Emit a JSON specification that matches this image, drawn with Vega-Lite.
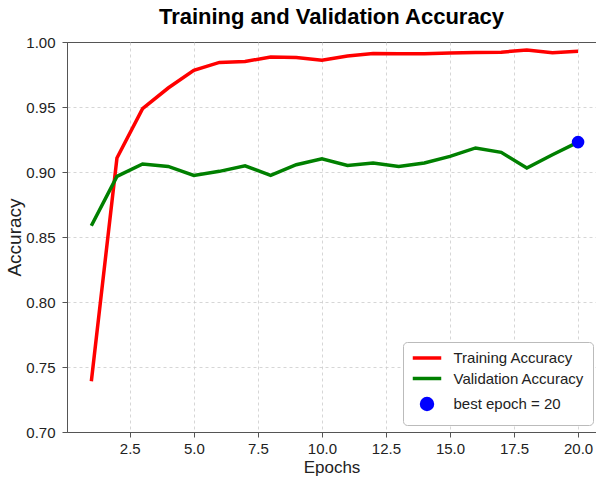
{
  "$schema": "https://vega.github.io/schema/vega-lite/v6.json",
  "width": 529,
  "height": 390,
  "autosize": {"type": "none"},
  "padding": {"left": 67, "top": 42, "right": 0, "bottom": 47},
  "background": "white",
  "title": {
    "text": "Training and Validation Accuracy",
    "font": "Liberation Sans",
    "fontSize": 22,
    "fontWeight": "bold",
    "color": "#000000",
    "anchor": "middle",
    "frame": "group",
    "baseline": "alphabetic",
    "offset": 15,
    "dy": 26
  },
  "config": {
    "font": "Liberation Sans",
    "view": {"stroke": "#555555", "strokeWidth": 1},
    "axis": {
      "labelFont": "Liberation Sans",
      "labelFontSize": 15,
      "labelColor": "#222222",
      "titleFont": "Liberation Sans",
      "titleFontWeight": "normal",
      "titleColor": "#222222",
      "domainColor": "#555555",
      "tickColor": "#555555",
      "tickSize": 5,
      "gridDash": [3, 3],
      "gridWidth": 0.8
    }
  },
  "datasets": {
    "acc": [
      {"epoch": 1, "acc": 0.739, "series": "Training Accuracy"},
      {"epoch": 2, "acc": 0.9108, "series": "Training Accuracy"},
      {"epoch": 3, "acc": 0.9487, "series": "Training Accuracy"},
      {"epoch": 4, "acc": 0.9646, "series": "Training Accuracy"},
      {"epoch": 5, "acc": 0.9782, "series": "Training Accuracy"},
      {"epoch": 6, "acc": 0.9843, "series": "Training Accuracy"},
      {"epoch": 7, "acc": 0.985, "series": "Training Accuracy"},
      {"epoch": 8, "acc": 0.9885, "series": "Training Accuracy"},
      {"epoch": 9, "acc": 0.988, "series": "Training Accuracy"},
      {"epoch": 10, "acc": 0.9859, "series": "Training Accuracy"},
      {"epoch": 11, "acc": 0.9892, "series": "Training Accuracy"},
      {"epoch": 12, "acc": 0.9912, "series": "Training Accuracy"},
      {"epoch": 13, "acc": 0.991, "series": "Training Accuracy"},
      {"epoch": 14, "acc": 0.991, "series": "Training Accuracy"},
      {"epoch": 15, "acc": 0.9915, "series": "Training Accuracy"},
      {"epoch": 16, "acc": 0.9919, "series": "Training Accuracy"},
      {"epoch": 17, "acc": 0.9922, "series": "Training Accuracy"},
      {"epoch": 18, "acc": 0.9938, "series": "Training Accuracy"},
      {"epoch": 19, "acc": 0.9918, "series": "Training Accuracy"},
      {"epoch": 20, "acc": 0.9928, "series": "Training Accuracy"},
      {"epoch": 1, "acc": 0.8587, "series": "Validation Accuracy"},
      {"epoch": 2, "acc": 0.8966, "series": "Validation Accuracy"},
      {"epoch": 3, "acc": 0.9062, "series": "Validation Accuracy"},
      {"epoch": 4, "acc": 0.9043, "series": "Validation Accuracy"},
      {"epoch": 5, "acc": 0.8974, "series": "Validation Accuracy"},
      {"epoch": 6, "acc": 0.9005, "series": "Validation Accuracy"},
      {"epoch": 7, "acc": 0.9048, "series": "Validation Accuracy"},
      {"epoch": 8, "acc": 0.8974, "series": "Validation Accuracy"},
      {"epoch": 9, "acc": 0.9056, "series": "Validation Accuracy"},
      {"epoch": 10, "acc": 0.9102, "series": "Validation Accuracy"},
      {"epoch": 11, "acc": 0.9051, "series": "Validation Accuracy"},
      {"epoch": 12, "acc": 0.9069, "series": "Validation Accuracy"},
      {"epoch": 13, "acc": 0.9043, "series": "Validation Accuracy"},
      {"epoch": 14, "acc": 0.9069, "series": "Validation Accuracy"},
      {"epoch": 15, "acc": 0.912, "series": "Validation Accuracy"},
      {"epoch": 16, "acc": 0.9185, "series": "Validation Accuracy"},
      {"epoch": 17, "acc": 0.9151, "series": "Validation Accuracy"},
      {"epoch": 18, "acc": 0.903, "series": "Validation Accuracy"},
      {"epoch": 19, "acc": 0.9133, "series": "Validation Accuracy"},
      {"epoch": 20, "acc": 0.923, "series": "Validation Accuracy"}
    ],
    "best": [
      {"epoch": 20, "acc": 0.923, "series": "best epoch = 20"}
    ]
  },
  "encoding": {
    "x": {
      "field": "epoch",
      "type": "quantitative",
      "title": "Epochs",
      "scale": {"domain": [0.05, 20.7], "nice": false, "zero": false},
      "axis": {
        "values": [2.5, 5, 7.5, 10, 12.5, 15, 17.5, 20],
        "format": ".1f",
        "labelPadding": 4,
        "titleFontSize": 17,
        "titlePadding": 3,
        "gridColor": "#cccccc"
      }
    },
    "y": {
      "field": "acc",
      "type": "quantitative",
      "title": "Accuracy",
      "scale": {"domain": [0.7, 1.0], "nice": false, "zero": false},
      "axis": {
        "values": [0.7, 0.75, 0.8, 0.85, 0.9, 0.95, 1.0],
        "format": ".2f",
        "labelPadding": 7,
        "titleFontSize": 19,
        "titlePadding": 1,
        "gridColor": {"condition": {"test": "datum.value >= 0.999", "value": "transparent"}, "value": "#cccccc"}
      }
    },
    "color": {
      "field": "series",
      "type": "nominal",
      "title": null,
      "scale": {
        "domain": ["Training Accuracy", "Validation Accuracy", "best epoch = 20"],
        "range": ["#ff0000", "#008000", "#0000ff"]
      },
      "legend": {
        "orient": "none",
        "legendX": 336,
        "legendY": 300,
        "padding": 8.5,
        "cornerRadius": 4,
        "fillColor": "#ffffff",
        "strokeColor": "#bbbbbb",
        "labelFont": "Liberation Sans",
        "labelFontSize": 15,
        "labelColor": "#222222",
        "labelOffset": 19,
        "symbolOffset": 8,
        "symbolSize": 120,
        "symbolStrokeWidth": 3.5,
        "rowPadding": 4.5,
        "encode": {
          "symbols": {
            "update": {
              "fill": {"scale": "color", "field": "value"},
              "stroke": {"scale": "color", "field": "value"},
              "opacity": {"value": 1}
            }
          }
        }
      }
    }
  },
  "layer": [
    {
      "data": {"name": "acc"},
      "mark": {"type": "line", "strokeWidth": 3.5}
    },
    {
      "data": {"name": "best"},
      "mark": {"type": "point", "filled": true, "opacity": 1, "size": 160},
      "encoding": {
        "shape": {
          "field": "series",
          "type": "nominal",
          "title": null,
          "scale": {
            "domain": ["Training Accuracy", "Validation Accuracy", "best epoch = 20"],
            "range": ["M-2.6,0H2.6", "M-2.6,0H2.6", "circle"]
          }
        }
      }
    }
  ]
}
